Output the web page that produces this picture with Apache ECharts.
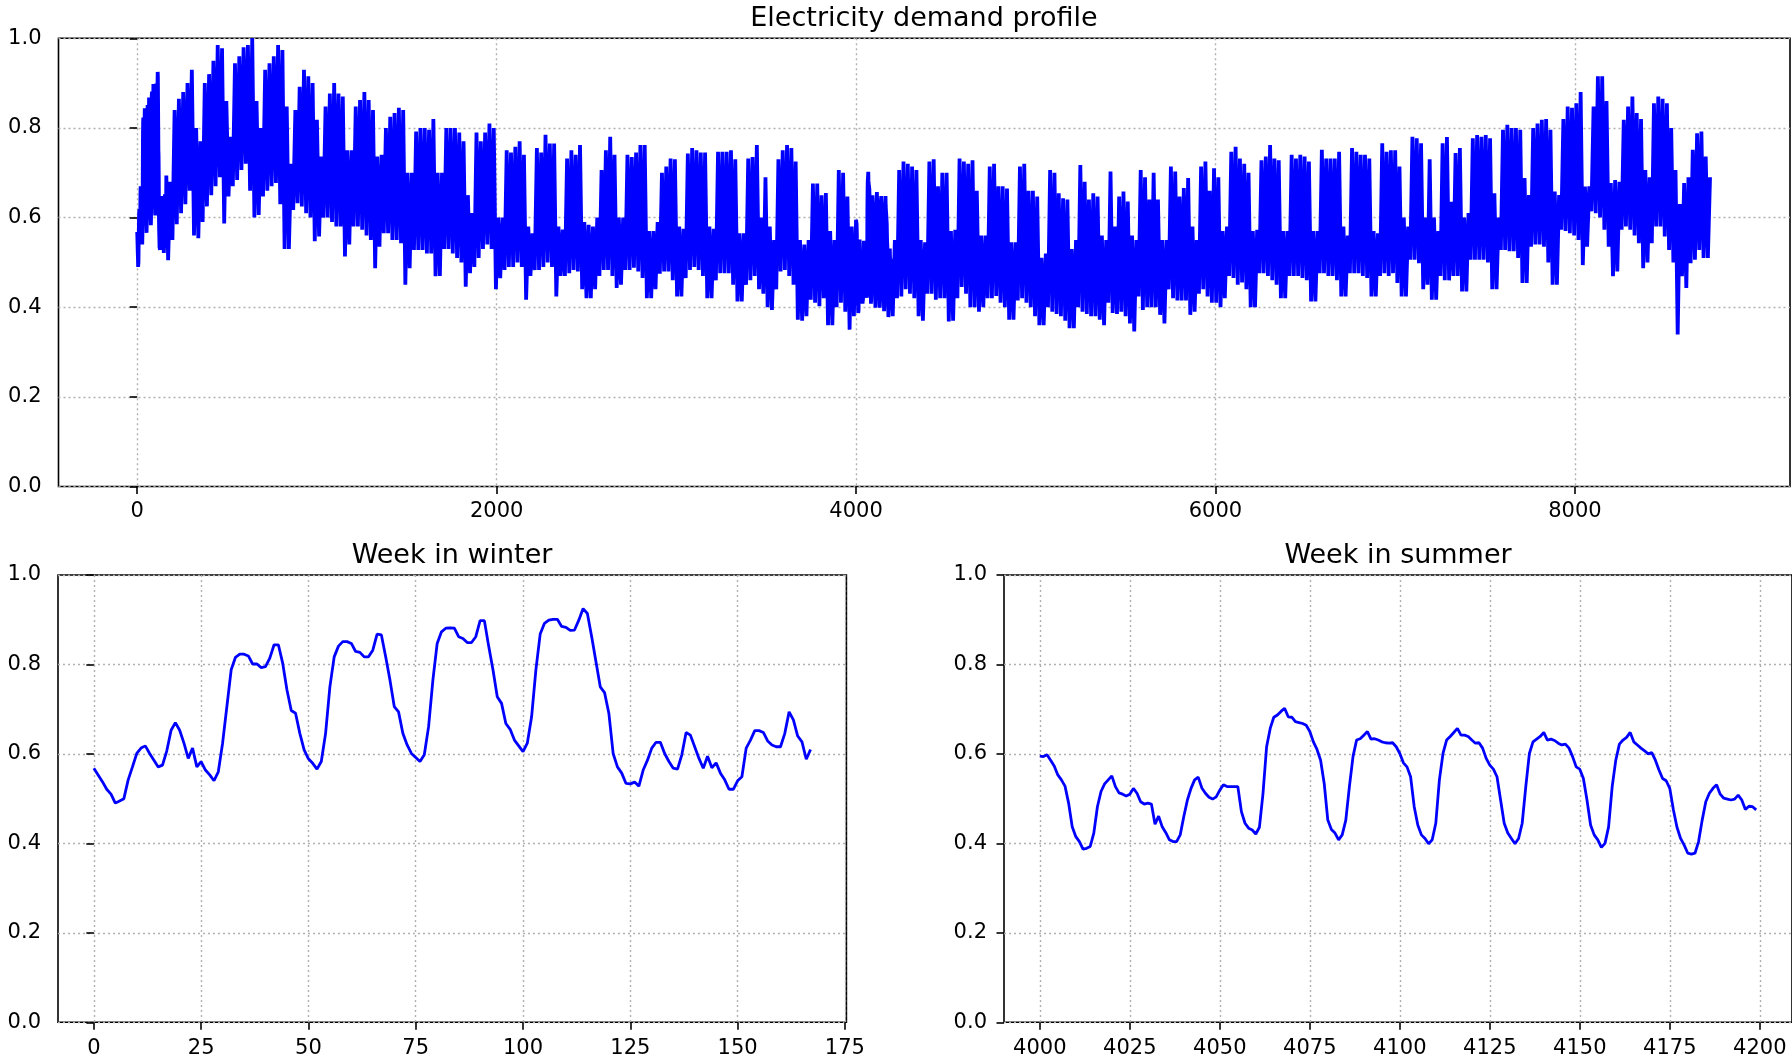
<!DOCTYPE html>
<html>
<head>
<meta charset="utf-8">
<script src="https://cdn.jsdelivr.net/npm/echarts@6/dist/echarts.min.js"></script>
<style>
  html, body { margin: 0; padding: 0; background: #ffffff; }
  #chart { width: 1792px; height: 1063px; }
</style>
</head>
<body>
<div id="chart"></div>
<script>
// Hourly demand, first week of January (hours 0..167)
const winterWeek = [
  0.568,0.553,0.538,0.521,0.510,0.490,0.495,0.500,0.542,0.571,
  0.601,0.613,0.618,0.601,0.586,0.571,0.575,0.607,0.653,0.670,
  0.653,0.624,0.590,0.613,0.571,0.583,0.564,0.553,0.540,0.560,
  0.624,0.706,0.788,0.816,0.823,0.823,0.819,0.801,0.801,0.793,
  0.795,0.814,0.844,0.844,0.803,0.743,0.697,0.691,0.646,0.609,
  0.589,0.579,0.566,0.583,0.646,0.750,0.817,0.841,0.851,0.851,
  0.847,0.829,0.827,0.817,0.817,0.832,0.868,0.866,0.817,0.765,
  0.706,0.694,0.646,0.620,0.601,0.592,0.583,0.598,0.661,0.765,
  0.847,0.873,0.881,0.882,0.881,0.862,0.858,0.849,0.849,0.862,
  0.898,0.898,0.841,0.788,0.728,0.713,0.668,0.655,0.631,0.618,
  0.605,0.624,0.683,0.788,0.868,0.892,0.899,0.901,0.901,0.885,
  0.883,0.876,0.877,0.899,0.925,0.914,0.862,0.806,0.750,0.737,
  0.691,0.601,0.571,0.557,0.534,0.533,0.537,0.528,0.564,0.586,
  0.613,0.626,0.626,0.601,0.583,0.568,0.566,0.598,0.648,0.642,
  0.616,0.590,0.568,0.595,0.569,0.580,0.557,0.542,0.521,0.521,
  0.540,0.549,0.613,0.631,0.652,0.652,0.648,0.629,0.620,0.616,
  0.616,0.646,0.694,0.676,0.640,0.627,0.588,0.610
];

// Hourly demand, hours 4000..4199 (June)
const summerStart = 4000;
const summerWeek = [
  0.595,0.594,0.598,0.586,0.573,0.553,0.542,0.528,0.490,0.437,
  0.415,0.404,0.387,0.389,0.393,0.423,0.482,0.516,0.533,0.542,
  0.551,0.527,0.513,0.510,0.506,0.510,0.523,0.512,0.493,0.488,
  0.490,0.488,0.443,0.461,0.437,0.424,0.408,0.404,0.404,0.419,
  0.460,0.497,0.523,0.542,0.548,0.524,0.512,0.503,0.499,0.504,
  0.519,0.531,0.527,0.527,0.527,0.527,0.471,0.445,0.434,0.430,
  0.421,0.436,0.512,0.616,0.657,0.682,0.687,0.695,0.702,0.683,
  0.682,0.672,0.670,0.668,0.664,0.650,0.627,0.610,0.586,0.534,
  0.452,0.431,0.423,0.408,0.419,0.452,0.527,0.594,0.631,0.634,
  0.642,0.650,0.633,0.634,0.631,0.627,0.625,0.624,0.625,0.616,
  0.601,0.580,0.571,0.549,0.482,0.441,0.419,0.411,0.399,0.408,
  0.445,0.542,0.601,0.631,0.639,0.648,0.657,0.642,0.642,0.639,
  0.631,0.624,0.625,0.613,0.590,0.575,0.566,0.549,0.497,0.445,
  0.423,0.411,0.399,0.411,0.445,0.527,0.601,0.627,0.633,0.639,
  0.648,0.631,0.633,0.630,0.624,0.620,0.622,0.613,0.594,0.571,
  0.566,0.545,0.497,0.441,0.419,0.408,0.391,0.400,0.437,0.527,
  0.586,0.622,0.631,0.637,0.648,0.627,0.620,0.613,0.607,0.600,
  0.603,0.586,0.564,0.545,0.540,0.523,0.475,0.436,0.411,0.396,
  0.378,0.376,0.378,0.404,0.452,0.493,0.512,0.523,0.531,0.510,
  0.501,0.499,0.497,0.499,0.508,0.497,0.476,0.483,0.482,0.475
];

// Daily maximum over the year, one row per week (Sun..Sat)
const dailyPeak = [
  0.670,0.845,0.870,0.900,0.925,0.650,0.695,
  0.680,0.840,0.865,0.880,0.900,0.930,0.800,
  0.770,0.900,0.920,0.950,0.985,0.978,0.860,
  0.780,0.944,0.960,0.980,0.985,1.000,0.860,
  0.800,0.930,0.944,0.960,0.985,0.974,0.848,
  0.720,0.840,0.892,0.930,0.915,0.900,0.818,
  0.736,0.848,0.877,0.900,0.877,0.870,0.750,
  0.750,0.848,0.862,0.880,0.862,0.840,0.736,
  0.740,0.800,0.825,0.833,0.845,0.840,0.700,
  0.700,0.792,0.800,0.800,0.796,0.820,0.700,
  0.700,0.800,0.800,0.800,0.790,0.770,0.650,
  0.610,0.790,0.770,0.790,0.810,0.800,0.600,
  0.600,0.750,0.745,0.758,0.770,0.740,0.580,
  0.565,0.755,0.745,0.785,0.765,0.765,0.580,
  0.573,0.732,0.750,0.740,0.762,0.590,0.584,
  0.580,0.600,0.706,0.750,0.780,0.740,0.600,
  0.600,0.740,0.735,0.745,0.762,0.762,0.570,
  0.570,0.590,0.700,0.714,0.732,0.730,0.580,
  0.575,0.743,0.755,0.750,0.745,0.745,0.580,
  0.575,0.747,0.747,0.747,0.750,0.730,0.565,
  0.565,0.732,0.735,0.762,0.600,0.690,0.580,
  0.550,0.730,0.750,0.762,0.755,0.725,0.550,
  0.540,0.550,0.676,0.676,0.650,0.655,0.570,
  0.550,0.706,0.700,0.647,0.580,0.640,0.551,
  0.548,0.702,0.650,0.657,0.648,0.648,0.531,
  0.550,0.706,0.725,0.720,0.714,0.706,0.550,
  0.545,0.725,0.730,0.670,0.700,0.700,0.570,
  0.573,0.732,0.725,0.720,0.728,0.660,0.560,
  0.560,0.714,0.720,0.670,0.670,0.665,0.545,
  0.545,0.714,0.720,0.660,0.660,0.647,0.510,
  0.520,0.706,0.700,0.654,0.643,0.640,0.530,
  0.550,0.717,0.680,0.640,0.654,0.647,0.560,
  0.550,0.703,0.580,0.647,0.658,0.636,0.560,
  0.550,0.706,0.690,0.640,0.700,0.640,0.550,
  0.550,0.714,0.703,0.647,0.666,0.688,0.580,
  0.550,0.714,0.725,0.660,0.710,0.690,0.570,
  0.580,0.747,0.758,0.732,0.720,0.700,0.570,
  0.573,0.728,0.736,0.762,0.732,0.728,0.570,
  0.570,0.740,0.732,0.740,0.736,0.725,0.570,
  0.570,0.751,0.732,0.732,0.732,0.747,0.580,
  0.560,0.755,0.747,0.740,0.740,0.732,0.570,
  0.565,0.766,0.747,0.750,0.750,0.714,0.600,
  0.580,0.780,0.777,0.766,0.600,0.730,0.600,
  0.570,0.766,0.780,0.635,0.744,0.755,0.600,
  0.610,0.777,0.784,0.780,0.784,0.777,0.654,
  0.600,0.796,0.807,0.800,0.800,0.796,0.688,
  0.650,0.800,0.810,0.818,0.820,0.796,0.658,
  0.650,0.820,0.848,0.845,0.855,0.880,0.669,
  0.670,0.848,0.915,0.915,0.860,0.677,0.684,
  0.680,0.818,0.848,0.870,0.833,0.820,0.706,
  0.690,0.855,0.870,0.865,0.855,0.800,0.706,
  0.630,0.677,0.690,0.751,0.788,0.792,0.736,
  0.690
];

// Daily minimum over the year, one row per week (Sun..Sat)
const dailyTrough = [
  0.490,0.540,0.565,0.580,0.605,0.530,0.520,
  0.505,0.550,0.585,0.610,0.630,0.660,0.560,
  0.554,0.590,0.625,0.650,0.670,0.690,0.587,
  0.647,0.670,0.684,0.706,0.720,0.660,0.600,
  0.606,0.647,0.660,0.670,0.677,0.630,0.530,
  0.530,0.617,0.632,0.625,0.610,0.600,0.547,
  0.558,0.600,0.600,0.590,0.580,0.580,0.513,
  0.540,0.580,0.580,0.573,0.560,0.550,0.487,
  0.535,0.565,0.565,0.550,0.550,0.543,0.450,
  0.487,0.528,0.528,0.528,0.520,0.520,0.469,
  0.470,0.530,0.530,0.520,0.510,0.500,0.446,
  0.476,0.490,0.510,0.530,0.540,0.530,0.440,
  0.465,0.483,0.490,0.490,0.500,0.490,0.417,
  0.470,0.483,0.483,0.490,0.500,0.490,0.424,
  0.470,0.470,0.476,0.483,0.480,0.440,0.420,
  0.420,0.440,0.470,0.483,0.483,0.470,0.443,
  0.450,0.483,0.483,0.488,0.480,0.465,0.420,
  0.420,0.440,0.475,0.480,0.480,0.460,0.424,
  0.424,0.465,0.483,0.490,0.483,0.470,0.420,
  0.420,0.460,0.476,0.476,0.476,0.450,0.413,
  0.413,0.450,0.460,0.470,0.440,0.430,0.400,
  0.394,0.440,0.480,0.483,0.470,0.450,0.372,
  0.370,0.380,0.417,0.410,0.402,0.420,0.360,
  0.360,0.400,0.410,0.390,0.350,0.380,0.387,
  0.404,0.421,0.408,0.399,0.399,0.391,0.376,
  0.380,0.420,0.424,0.440,0.430,0.420,0.380,
  0.370,0.430,0.430,0.417,0.420,0.420,0.368,
  0.370,0.420,0.445,0.430,0.400,0.400,0.390,
  0.400,0.420,0.420,0.425,0.410,0.400,0.372,
  0.372,0.415,0.420,0.410,0.400,0.380,0.360,
  0.360,0.400,0.390,0.385,0.380,0.370,0.353,
  0.353,0.400,0.390,0.385,0.380,0.380,0.372,
  0.360,0.410,0.387,0.385,0.390,0.380,0.364,
  0.346,0.424,0.394,0.400,0.400,0.400,0.383,
  0.364,0.440,0.420,0.415,0.415,0.415,0.383,
  0.390,0.430,0.440,0.424,0.410,0.410,0.400,
  0.420,0.470,0.465,0.450,0.455,0.440,0.400,
  0.400,0.476,0.476,0.470,0.460,0.450,0.420,
  0.420,0.470,0.470,0.470,0.465,0.460,0.413,
  0.413,0.476,0.476,0.470,0.470,0.460,0.424,
  0.424,0.476,0.476,0.476,0.470,0.465,0.424,
  0.424,0.470,0.476,0.470,0.476,0.454,0.424,
  0.424,0.506,0.506,0.498,0.440,0.450,0.417,
  0.417,0.470,0.460,0.460,0.470,0.470,0.435,
  0.435,0.506,0.506,0.506,0.506,0.500,0.440,
  0.440,0.528,0.528,0.525,0.525,0.510,0.454,
  0.454,0.535,0.540,0.540,0.535,0.500,0.450,
  0.450,0.573,0.570,0.565,0.560,0.550,0.494,
  0.535,0.614,0.610,0.600,0.573,0.535,0.469,
  0.480,0.573,0.580,0.573,0.560,0.543,0.487,
  0.500,0.543,0.580,0.580,0.558,0.528,0.500,
  0.339,0.469,0.443,0.498,0.506,0.528,0.510,
  0.510
];

// Tick labels
const yearTicks = [0, 2000, 4000, 6000, 8000];
const winterTicks = [0, 25, 50, 75, 100, 125, 150, 175];
const summerTicks = [4000, 4025, 4050, 4075, 4100, 4125, 4150, 4175, 4200];

const titles = ['Electricity demand profile', 'Week in winter', 'Week in summer'];

// Yearly series: hourly readings for the two detailed weeks,
// daily low/high elsewhere (low around 04:00, high around 16:00).
const yearPoints = [];
const summerEnd = summerStart + summerWeek.length - 1;
for (let d = 0; d < dailyPeak.length; d++) {
  const pair = [[d * 24 + 4, dailyTrough[d]], [d * 24 + 16, dailyPeak[d]]];
  pair.forEach(pt => {
    const h = pt[0];
    if (h < winterWeek.length) return;
    if (h >= summerStart && h <= summerEnd) return;
    yearPoints.push(pt);
  });
}
winterWeek.forEach((v, i) => yearPoints.push([i, v]));
summerWeek.forEach((v, i) => yearPoints.push([summerStart + i, v]));
yearPoints.sort((a, b) => a[0] - b[0]);

const FONT = 'DejaVu Sans';
const gridLine = { show: true, lineStyle: { color: '#b0b0b0', width: 1.4, type: [2, 3] } };
const tickStyle = { show: true, length: 7.5, inside: false, lineStyle: { color: '#000', width: 1.6 } };
const labelBase = { color: '#000', fontFamily: FONT, fontSize: 21 };
const titleStyle = { fontFamily: FONT, fontSize: 27, fontWeight: 'normal', color: '#000' };

function xAxisFor(gridIndex, min, max, ticks, margin) {
  return {
    type: 'value', gridIndex, min, max,
    axisLine: { show: false },
    axisTick: Object.assign({}, tickStyle, { customValues: ticks }),
    axisLabel: Object.assign({}, labelBase, { customValues: ticks, margin, formatter: v => String(v) }),
    splitLine: gridLine
  };
}
function yAxisFor(gridIndex) {
  return {
    type: 'value', gridIndex, min: 0, max: 1, interval: 0.2,
    axisLine: { show: false },
    axisTick: tickStyle,
    axisLabel: Object.assign({}, labelBase, { margin: 17, formatter: v => v.toFixed(1) }),
    splitLine: gridLine
  };
}

const chart = echarts.init(document.getElementById('chart'), null, { renderer: 'canvas' });
const lineColor = '#0000ff';

chart.setOption({
  animation: false,
  backgroundColor: '#ffffff',
  title: [
    { text: titles[0], left: 924, top: 5, textAlign: 'center', padding: 0, textStyle: titleStyle },
    { text: titles[1], left: 452, top: 542, textAlign: 'center', padding: 0, textStyle: titleStyle },
    { text: titles[2], left: 1398, top: 542, textAlign: 'center', padding: 0, textStyle: titleStyle }
  ],
  grid: [
    { left: 58.5, top: 38.3, width: 1731.5, height: 448.2, show: true, borderColor: '#000', borderWidth: 1.6, backgroundColor: 'transparent' },
    { left: 58, top: 575, width: 788.4, height: 447.3, show: true, borderColor: '#000', borderWidth: 1.6, backgroundColor: 'transparent' },
    { left: 1004, top: 575, width: 789, height: 447.3, show: true, borderColor: '#000', borderWidth: 1.6, backgroundColor: 'transparent' }
  ],
  xAxis: [
    xAxisFor(0, -438, 9197, yearTicks, 15),
    xAxisFor(1, -8.35, 175.35, winterTicks, 16),
    xAxisFor(2, summerStart - 9.95, summerEnd + 9.95, summerTicks, 16)
  ],
  yAxis: [yAxisFor(0), yAxisFor(1), yAxisFor(2)],
  series: [
    { type: 'line', xAxisIndex: 0, yAxisIndex: 0, data: yearPoints, showSymbol: false, symbol: 'none',
      lineStyle: { color: lineColor, width: 3.8 }, sampling: null, z: 3 },
    { type: 'line', xAxisIndex: 1, yAxisIndex: 1, data: winterWeek.map((v, i) => [i, v]), showSymbol: false, symbol: 'none',
      lineStyle: { color: lineColor, width: 2.8 }, z: 3 },
    { type: 'line', xAxisIndex: 2, yAxisIndex: 2, data: summerWeek.map((v, i) => [summerStart + i, v]), showSymbol: false, symbol: 'none',
      lineStyle: { color: lineColor, width: 2.8 }, z: 3 }
  ]
});
</script>
</body>
</html>
